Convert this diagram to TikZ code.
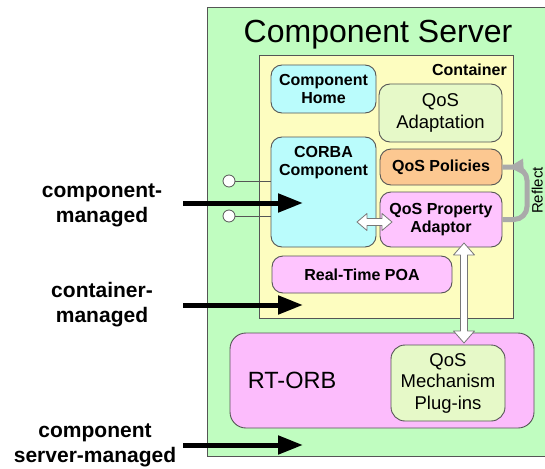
\documentclass[tikz,border=0pt]{standalone}
\usepackage{fontspec}
\setmainfont{Liberation Sans}
\usetikzlibrary{arrows.meta,calc}

\definecolor{servergreen}{RGB}{192,253,192}
\definecolor{contyellow}{RGB}{253,253,192}
\definecolor{compcyan}{RGB}{186,252,252}
\definecolor{qosgreen}{RGB}{230,249,200}
\definecolor{polorange}{RGB}{252,200,145}
\definecolor{adaptpink}{RGB}{254,196,254}
\definecolor{orbpink}{RGB}{252,188,252}
\definecolor{edgegray}{RGB}{85,85,85}
\definecolor{reflectgray}{RGB}{170,170,170}

\begin{document}
\begin{tikzpicture}[x=1pt,y=-1pt,
  rbox/.style={draw=edgegray, line width=0.9pt, rounded corners=11pt,
               inner sep=0pt, align=center},
  boldtxt/.style={font=\bfseries\fontsize{16}{18}\selectfont, align=center},
  regtxt/.style={font=\fontsize{18.5}{21.5}\selectfont, align=center},
  sidetxt/.style={font=\bfseries\fontsize{21}{25}\selectfont, align=center},
  blockarrow/.style={draw=edgegray!80, fill=white, line width=0.8pt, line join=round},
  bigarrow/.style={line width=5pt, -{Triangle[length=25pt,width=18pt]}},
  lolli/.style={circle, draw=edgegray, fill=white, line width=0.8pt,
                minimum size=12pt, inner sep=0pt},
  stem/.style={draw=edgegray, line width=1pt}
]
\useasboundingbox (0,0) rectangle (545,468);
\clip (0,0) rectangle (545,468);
\fill[white] (0,0) rectangle (545,468);

% component server and container frames
\draw[fill=servergreen, draw=edgegray, line width=1pt] (207,8) rectangle (580,456);
\node[font=\fontsize{32}{38}\selectfont, anchor=base, inner sep=0pt] (title) at (378,43) {Component Server};
\draw[fill=contyellow, draw=edgegray, line width=1pt] (259,56) rectangle (513,318);
\node[boldtxt, anchor=base east, inner sep=0pt] (contlbl) at (507,76) {Container};

% boxes inside the container
\node[rbox, boldtxt, fill=compcyan, minimum width=105pt, minimum height=48pt] (home) at (323.5,89) {Component\\Home};
\node[rbox, regtxt, fill=qosgreen, minimum width=123pt, minimum height=58pt] (adapt) at (440.5,113) {QoS\\Adaptation};
\node[rbox, fill=compcyan, minimum width=105pt, minimum height=110pt] (corba) at (323.5,192) {};
\node[boldtxt, anchor=north, inner sep=0pt] (corbalbl) at (323.5,146.5) {CORBA\\Component};
\node[rbox, boldtxt, fill=polorange, minimum width=122pt, minimum height=36pt] (policies) at (441,167) {QoS Policies};
\node[rbox, boldtxt, fill=adaptpink, minimum width=122pt, minimum height=55pt] (adaptor) at (441,219.5) {QoS Property\\Adaptor};
\node[rbox, boldtxt, fill=adaptpink, minimum width=180pt, minimum height=37pt] (poa) at (362,274.5) {Real-Time POA};

% ORB layer
\node[rbox, fill=orbpink, rounded corners=16pt, minimum width=304pt, minimum height=95pt] (orb) at (382,380.5) {};
\node[font=\fontsize{23.5}{28}\selectfont, inner sep=0pt] (orblbl) at (292,380) {RT-ORB};
\node[rbox, regtxt, fill=qosgreen, rounded corners=14pt, minimum width=114pt, minimum height=76pt] (mech) at (448,383) {QoS\\Mechanism\\Plug-ins};

% reflect loop between adaptor and policies
\draw[reflectgray, line width=5pt, rounded corners=13pt] (adaptor.east) -- (527,219.5) -- (527,167.5) -- (policies.east);
\fill[reflectgray] (509,167) -- (523,158.5) -- (524,175) -- cycle;
\node[font=\fontsize{15}{18}\selectfont, rotate=90, anchor=north, inner sep=0pt] (reflect) at (531.5,190.5) {Reflect};

% white double arrows
\coordinate (hL) at (357,222);
\coordinate (hR) at (392,222);
\filldraw[blockarrow] (hL) -- ++(10,-8.5) -- ++(0,5) -- ($(hR)+(-10,-3.5)$) -- ++(0,-5) -- (hR)
  -- ++(-10,8.5) -- ++(0,-5) -- ($(hL)+(10,3.5)$) -- ++(0,5) -- cycle;
\coordinate (vT) at (464,243);
\coordinate (vB) at (464,343);
\filldraw[blockarrow] (vT) -- ++(10.5,12) -- ++(-7,0) -- ($(vB)+(3.5,-12)$) -- ++(7,0) -- (vB)
  -- ++(-10.5,-12) -- ++(7,0) -- ($(vT)+(-3.5,12)$) -- ++(-7,0) -- cycle;

% provided interfaces of the component
\node[lolli] (port1) at (229,181) {};
\node[lolli] (port2) at (229,216) {};
\draw[stem] (port1) -- (port1 -| corba.west);
\draw[stem] (port2) -- (port2 -| corba.west);

% management levels
\node[sidetxt] (lvl1) at (102,205) {component-\\managed};
\node[sidetxt] (lvl2) at (102,305) {container-\\managed};
\node[sidetxt] (lvl3) at (95,445) {component\\server-managed};
\coordinate (a1s) at (183,203); \coordinate (a1e) at (303,203);
\coordinate (a2s) at (183,305); \coordinate (a2e) at (303,305);
\coordinate (a3s) at (183,445); \coordinate (a3e) at (303,445);
\draw[bigarrow] (a1s) -- (a1e);
\draw[bigarrow] (a2s) -- (a2e);
\draw[bigarrow] (a3s) -- (a3e);
\end{tikzpicture}
\end{document}
